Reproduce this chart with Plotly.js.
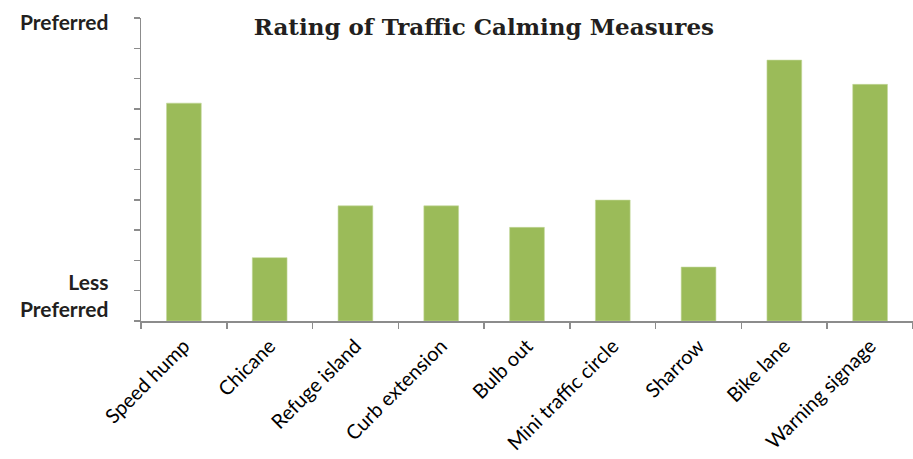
<!DOCTYPE html>
<html>
<head>
<meta charset="utf-8">
<script src="https://cdn.plot.ly/plotly-3.0.1.min.js"></script>
<style>html,body{margin:0;padding:0;background:#fff;}#chart{width:913px;height:459px;}</style>
</head>
<body>
<div id="chart"></div>
<script>
const categories = ["Speed hump", "Chicane", "Refuge island", "Curb extension", "Bulb out",
  "Mini traffic circle", "Sharrow", "Bike lane", "Warning signage"];
const ratings = [7.19, 2.09, 3.8, 3.8, 3.09, 3.99, 1.78, 8.61, 7.81];
const titleText = "Rating of Traffic Calming Measures";
const topLabel = "Preferred";
const bottomLabel = "Less<br>Preferred";
const yMax = 10;

const axisColor = "#8c8c8c";

const trace = {
  type: "bar",
  x: categories,
  y: ratings,
  marker: { color: "#9BBB59", line: { color: "#c3d79b", width: 0.6 } },
  hoverinfo: "x+y"
};

const layout = {
  width: 913, height: 459,
  margin: { l: 141, r: 0, t: 18, b: 138, pad: 0 },
  paper_bgcolor: "#ffffff", plot_bgcolor: "#ffffff",
  showlegend: false,
  bargap: 0.595,
  title: {
    text: "<b>" + titleText + "</b>",
    font: { family: "DejaVu Serif, Liberation Serif, serif", size: 23, color: "#231f20" },
    xref: "container", x: 0.53, xanchor: "center",
    yref: "container", y: 1 - 27/459, yanchor: "middle"
  },
  xaxis: {
    type: "category",
    range: [-0.5, 8.5],
    showline: true, linecolor: axisColor, linewidth: 1.5,
    ticks: "outside", tickson: "boundaries", ticklen: 6, tickcolor: axisColor, tickwidth: 1.5,
    tickangle: -45,
    ticklabelstandoff: 4,
    tickfont: { family: "Lato, Open Sans, sans-serif", size: 20, color: "#000000" },
    showgrid: false, zeroline: false, fixedrange: true
  },
  yaxis: {
    range: [0, yMax],
    dtick: 1, tick0: 0,
    showline: true, linecolor: axisColor, linewidth: 1.5,
    ticks: "outside", ticklen: 6, tickcolor: axisColor, tickwidth: 1.5,
    showticklabels: false,
    showgrid: false, zeroline: false, fixedrange: true
  },
  annotations: [
    {
      text: "<b>" + topLabel + "</b>",
      xref: "paper", x: -31/772, xanchor: "right",
      yref: "y", y: 9.88, yanchor: "middle",
      showarrow: false, align: "right",
      font: { family: "Lato, Open Sans, sans-serif", size: 21, color: "#231f20" }
    },
    {
      text: "<b>" + bottomLabel + "</b>",
      xref: "paper", x: -31/772, xanchor: "right",
      yref: "y", y: 0.86, yanchor: "middle",
      showarrow: false, align: "right",
      font: { family: "Lato, Open Sans, sans-serif", size: 21, color: "#231f20" }
    }
  ]
};

Plotly.newPlot("chart", [trace], layout, { displayModeBar: false, staticPlot: true });
</script>
</body>
</html>
